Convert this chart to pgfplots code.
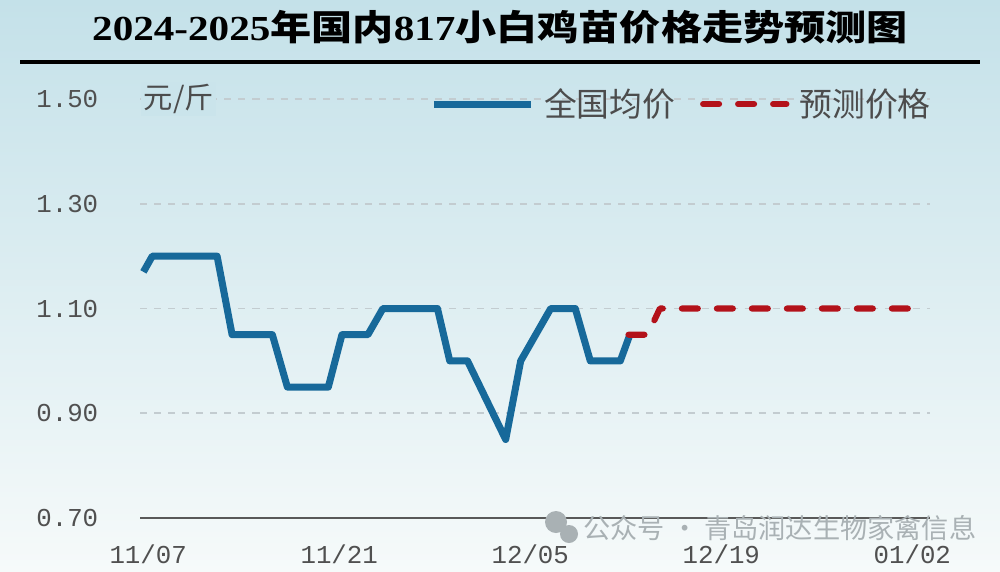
\documentclass[border=0pt]{standalone}
\usepackage{pgfplots}
\pgfplotsset{compat=1.18}
\usepackage{graphicx}
\usepackage{fontspec}
\setmainfont{Liberation Serif}
\newfontfamily\cjk{Noto Sans CJK SC}
\newfontfamily\monof{Liberation Mono}

\definecolor{bgtop}{HTML}{C4E1E9}
\definecolor{bgbot}{HTML}{F6FAFA}
\definecolor{avgblue}{HTML}{17699A}
\definecolor{predred}{HTML}{B3121A}
\definecolor{ticktext}{HTML}{505050}
\definecolor{gridgray}{HTML}{C3CCD0}
\definecolor{wmgray}{HTML}{A9B1B4}

\pgfplotsset{
    longleg/.style={legend image code/.code={\draw[##1] (0cm,0cm) -- (1.45cm,0cm);}},
    dashleg/.style={legend image code/.code={\draw[##1] (0.1cm,0cm) -- (1.35cm,0cm);}},
}

\begin{document}
\begin{tikzpicture}[x=0.015cm,y=-0.015cm]
\useasboundingbox (0,0) rectangle (1000,571);
\shade[top color=bgtop, bottom color=bgbot] (0,0) rectangle (1000,571);

% title and rule
\node at (500,27) {\scalebox{1.17}[1]{\fontsize{15pt}{16pt}\selectfont\bfseries 2024-2025{\cjk 年国内}817{\cjk 小白鸡苗价格走势预测图}}};
\draw[line width=1.3pt] (20,62) -- (980,62);

\begin{axis}[
    at={(2.1cm,-7.77cm)}, anchor=south west,
    scale only axis,
    width=11.85cm, height=6.285cm,
    xmin=-0.6, xmax=57.3,
    ymin=0.70, ymax=1.50,
    xtick={0,14,28,42,56},
    xticklabels={11/07,11/21,12/05,12/19,01/02},
    ytick={0.70,0.90,1.10,1.30,1.50},
    axis lines*=left,
    x axis line style={draw=black!65, line width=1.1pt},
    y axis line style={draw=none},
    major tick length=0pt,
    ymajorgrids,
    grid style={dashed, draw=gridgray, line width=0.8pt},
    tick label style={font=\monof\fontsize{11pt}{12pt}\selectfont, text=ticktext},
    xticklabel style={anchor=north, inner sep=0pt, yshift=-0.39cm},
    yticklabel style={anchor=east, inner sep=0pt, xshift=-0.62cm,
        /pgf/number format/.cd, fixed, fixed zerofill, precision=2},
    /pgf/number format/assume math mode=true,
    clip=false,
    legend style={at={(rel axis cs:0.367,0.988)}, anchor=west,
        draw=none, fill=none, inner sep=0pt, legend columns=2,
        font=\cjk\fontsize{14pt}{15pt}\selectfont, text=black!70,
        /tikz/every odd column/.append style={column sep=0.08cm},
        /tikz/every even column/.append style={column sep=0.3cm}},
]

% national average
\addplot[color=avgblue, line width=3pt, line join=round, longleg]
coordinates {
    (-0.35,1.17) (0.3,1.20) (5.05,1.20) (6.15,1.05) (9.1,1.05)
    (10.2,0.95) (13.2,0.95) (14.2,1.05) (16.1,1.05) (17.2,1.10)
    (21.2,1.10) (22.1,1.00) (23.4,1.00) (26.2,0.85) (27.3,1.00)
    (29.5,1.10) (31.3,1.10) (32.4,1.00) (34.6,1.00) (35.3,1.05)
};
\addlegendentry{全国均价}

% forecast
\addplot[color=predred, line width=2.6pt, line cap=round, line join=round,
    dash pattern=on 0.24cm off 0.285cm, dashleg]
coordinates {
    (35.2,1.05) (36.6,1.05) (37.5,1.10) (56.0,1.10)
};
\addlegendentry{预测价格}
\end{axis}

% unit label
\node[anchor=west, fill=bgtop!88!bgbot, inner sep=1pt, text=black!70]
    at (141,99) {\cjk\fontsize{12.5pt}{13pt}\selectfont 元/斤};

% watermark
\fill[wmgray] (556,522) circle (11);
\fill[wmgray] (569,534) circle (9);
\node[anchor=west, text=wmgray, inner sep=0pt]
    at (583,528) {\cjk\fontsize{11.6pt}{12pt}\selectfont 公众号 · 青岛润达生物家禽信息};
\end{tikzpicture}
\end{document}
